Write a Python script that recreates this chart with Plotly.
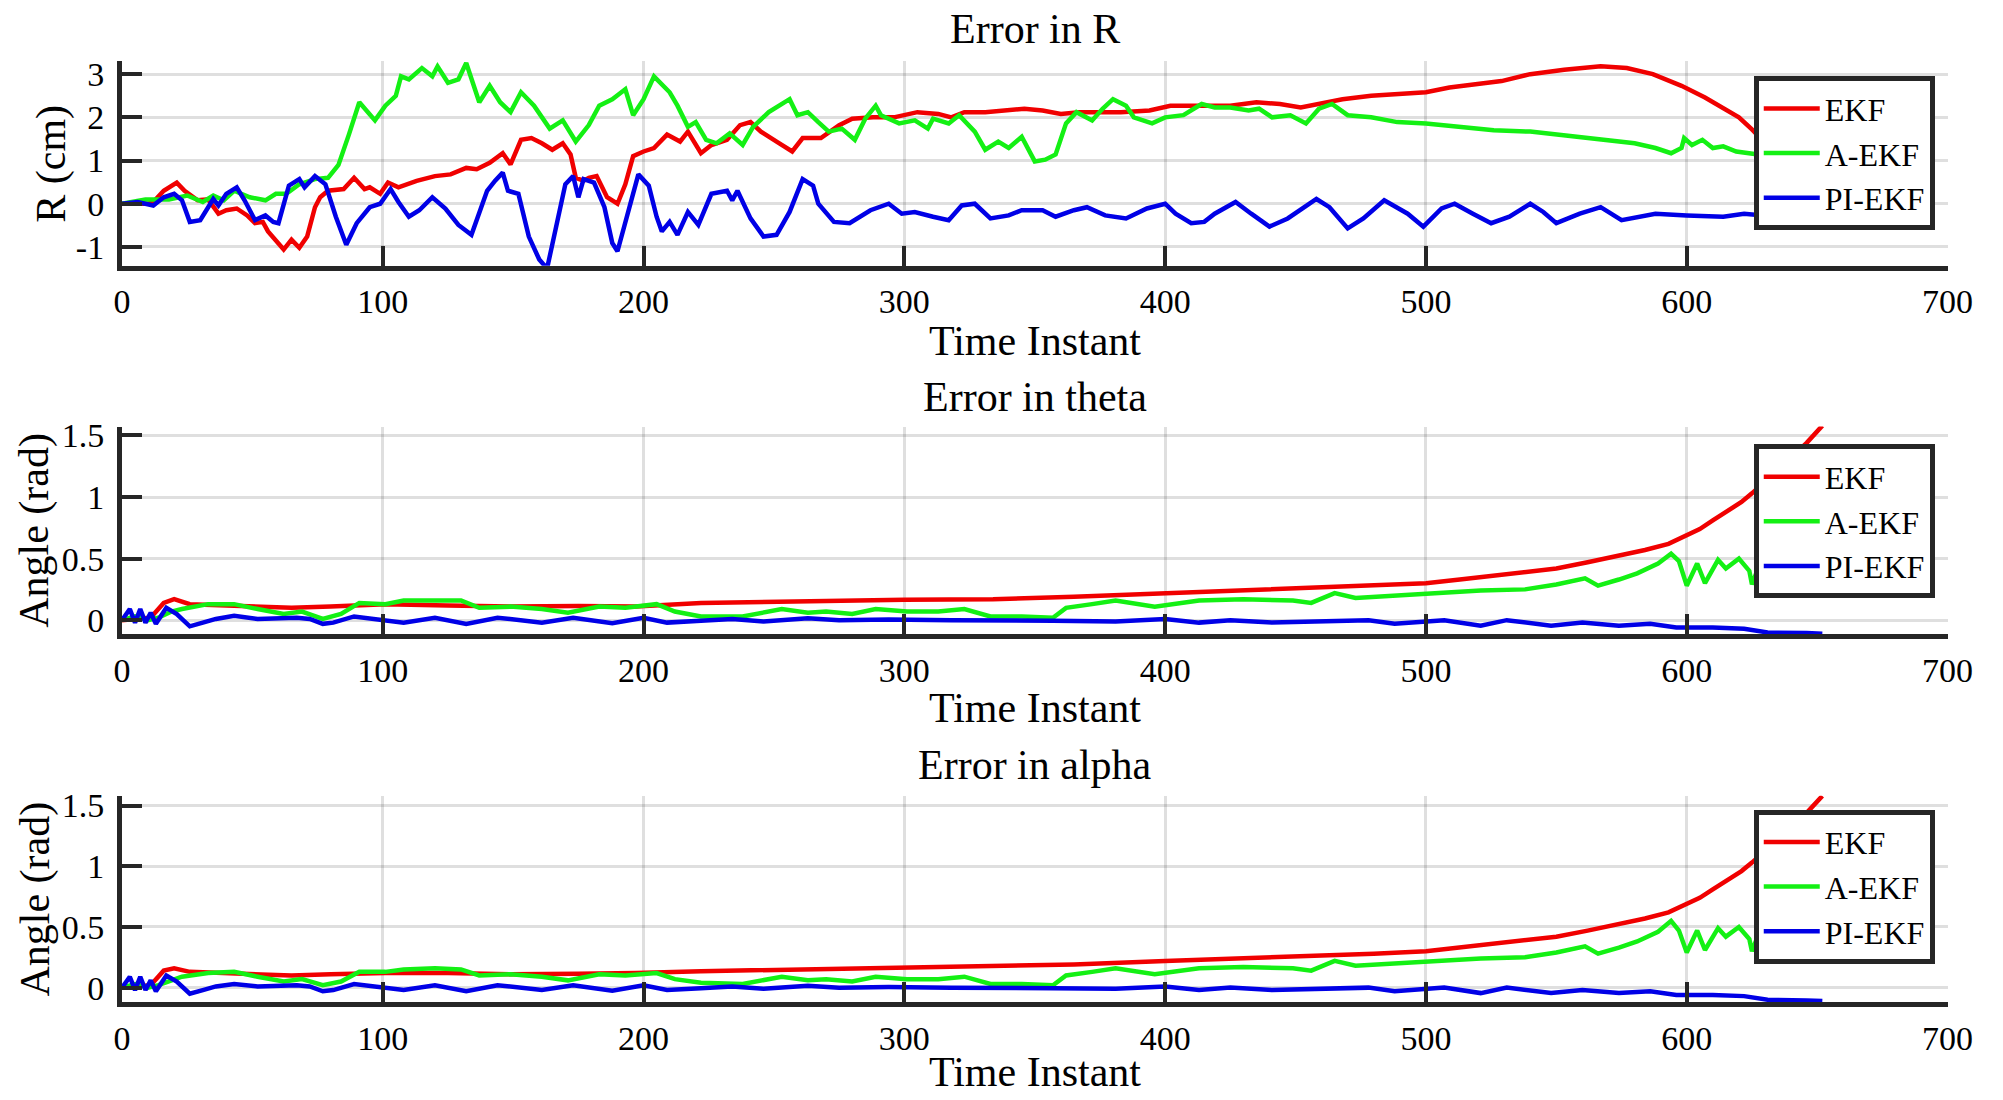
import plotly.graph_objects as go
from plotly.subplots import make_subplots

# ---- Error in R (cm) ----
r_ekf_x = [0, 10, 12, 16, 21, 24, 29, 33, 37, 40, 44, 48, 51, 54, 56, 59, 62, 65, 68, 71,
           74, 76, 79, 85, 89, 93, 95, 99, 102, 106, 113, 120, 126, 132, 136, 141, 146, 149, 153, 157,
           161, 165, 169, 172, 174, 177, 179, 182, 186, 190, 193, 196, 200, 204, 209, 214, 217, 222, 226, 232,
           237, 241, 245, 251, 257, 261, 268, 275, 280, 288, 296, 305, 313, 318, 323, 331, 340, 346, 353, 360,
           367, 375, 383, 394, 402, 415, 425, 435, 444, 452, 459, 468, 479, 490, 500, 509, 520, 529, 540, 553,
           567, 571, 577, 587, 598, 607, 620, 625, 630, 635, 640, 645, 650, 652]
r_ekf = [0, 0, 0.04, 0.3, 0.49, 0.3, 0.08, 0.1, -0.23, -0.15, -0.11, -0.27, -0.45, -0.42, -0.64, -0.87, -1.06, -0.83, -1.02, -0.76,
         -0.08, 0.15, 0.3, 0.34, 0.6, 0.34, 0.38, 0.23, 0.49, 0.38, 0.53, 0.64, 0.68, 0.83, 0.8, 0.95, 1.17, 0.91, 1.48, 1.52,
         1.4, 1.25, 1.4, 1.14, 0.6, 0.53, 0.6, 0.64, 0.15, 0, 0.45, 1.1, 1.21, 1.29, 1.6, 1.44, 1.67, 1.17, 1.36, 1.48,
         1.82, 1.89, 1.67, 1.44, 1.21, 1.52, 1.52, 1.82, 1.97, 2.0, 2.0, 2.12, 2.08, 2.0, 2.12, 2.12, 2.16, 2.2, 2.16, 2.08,
         2.12, 2.12, 2.12, 2.16, 2.27, 2.27, 2.27, 2.35, 2.31, 2.23, 2.31, 2.42, 2.5, 2.54, 2.58, 2.69, 2.77, 2.84, 3.0, 3.1,
         3.18, 3.17, 3.14, 3.0, 2.73, 2.46, 2.0, 1.72, 1.42, 1.1, 0.75, 0.4, 0.04, -0.27]

r_aekf_x = [0, 9, 18, 25, 31, 35, 39, 43, 49, 55, 59, 63, 68, 74, 79, 83, 87, 91, 97, 101,
            105, 107, 110, 115, 119, 121, 125, 129, 132, 137, 141, 145, 149, 153, 158, 164, 169, 174, 179, 183,
            188, 193, 196, 200, 204, 210, 213, 217, 220, 224, 228, 233, 238, 242, 248, 252, 256, 259, 263, 267,
            271, 276, 281, 285, 289, 291, 298, 304, 309, 311, 317, 321, 327, 331, 336, 340, 345, 350, 354, 358,
            362, 366, 372, 376, 380, 385, 388, 395, 400, 407, 414, 419, 425, 432, 436, 441, 448, 454, 459, 464,
            470, 479, 489, 500, 513, 526, 540, 553, 567, 580, 588, 594, 598, 599, 602, 606, 610, 614, 619, 626]
r_aekf = [0, 0.1, 0.1, 0.19, 0.04, 0.19, 0.08, 0.3, 0.15, 0.08, 0.23, 0.23, 0.45, 0.57, 0.6, 0.9, 1.6, 2.35, 1.93, 2.27,
          2.5, 2.95, 2.88, 3.14, 2.95, 3.18, 2.8, 2.88, 3.26, 2.35, 2.73, 2.35, 2.12, 2.58, 2.27, 1.74, 1.93, 1.44, 1.82, 2.27,
          2.42, 2.65, 2.05, 2.42, 2.95, 2.58, 2.27, 1.78, 1.89, 1.48, 1.4, 1.63, 1.36, 1.78, 2.12, 2.27, 2.42, 2.05, 2.12, 1.89,
          1.67, 1.74, 1.48, 1.97, 2.27, 2.05, 1.86, 1.93, 1.74, 1.97, 1.86, 2.05, 1.67, 1.25, 1.44, 1.29, 1.55, 0.98, 1.02, 1.14,
          1.86, 2.12, 1.93, 2.2, 2.42, 2.27, 2.0, 1.86, 2.0, 2.05, 2.31, 2.23, 2.23, 2.16, 2.2, 2.0, 2.05, 1.86, 2.2, 2.31,
          2.05, 2.0, 1.89, 1.86, 1.78, 1.7, 1.67, 1.59, 1.5, 1.4, 1.29, 1.17, 1.29, 1.52, 1.36, 1.48, 1.29, 1.33, 1.21, 1.15]

r_piekf_x = [0, 6, 12, 16, 20, 23, 26, 30, 35, 37, 40, 44, 47, 51, 55, 58, 60, 64, 68, 70,
             74, 78, 82, 86, 90, 95, 99, 103, 106, 110, 114, 119, 124, 129, 134, 140, 143, 146, 148, 152,
             156, 160, 163, 167, 170, 173, 175, 177, 181, 185, 188, 190, 194, 198, 202, 205, 207, 210, 213, 217,
             221, 226, 232, 234, 236, 241, 246, 251, 256, 261, 265, 267, 273, 279, 287, 294, 299, 304, 311, 317,
             322, 327, 333, 340, 345, 353, 358, 365, 370, 377, 385, 393, 400, 404, 410, 415, 419, 427, 433, 440,
             447, 458, 463, 470, 476, 484, 493, 499, 506, 511, 518, 525, 532, 540, 545, 550, 559, 567, 575, 581,
             588, 600, 614, 622, 630, 640, 646, 652]
r_piekf = [0, 0.04, -0.04, 0.15, 0.23, 0.08, -0.42, -0.38, 0.11, -0.04, 0.23, 0.38, 0.08, -0.38, -0.27, -0.42, -0.45, 0.42, 0.57, 0.38,
           0.64, 0.45, -0.3, -0.95, -0.45, -0.08, 0, 0.34, 0.04, -0.3, -0.15, 0.15, -0.11, -0.49, -0.72, 0.3, 0.53, 0.72, 0.3, 0.23,
           -0.76, -1.29, -1.5, -0.45, 0.45, 0.64, 0.15, 0.57, 0.49, -0.08, -0.91, -1.1, -0.23, 0.68, 0.42, -0.3, -0.64, -0.42, -0.72, -0.19,
           -0.49, 0.23, 0.3, 0.08, 0.3, -0.34, -0.76, -0.72, -0.19, 0.57, 0.42, 0, -0.42, -0.45, -0.15, 0, -0.23, -0.19, -0.3, -0.38,
           -0.04, 0, -0.34, -0.27, -0.15, -0.15, -0.3, -0.15, -0.08, -0.27, -0.34, -0.11, 0, -0.23, -0.45, -0.42, -0.23, 0.04, -0.23, -0.53,
           -0.34, 0.11, -0.08, -0.57, -0.34, 0.08, -0.23, -0.53, -0.11, 0, -0.23, -0.45, -0.3, 0, -0.19, -0.45, -0.23, -0.08, -0.38, -0.3,
           -0.23, -0.27, -0.3, -0.23, -0.27, -0.33, -0.27, -0.25]

# ---- Error in theta (rad) ----
th_ekf_x = [0, 11, 16, 20, 26, 40, 52, 65, 80, 101, 125, 149, 175, 197, 222, 250, 270, 300, 334, 365,
            400, 430, 454, 480, 500, 513, 526, 538, 550, 562, 574, 584, 593, 600, 605, 610, 615, 621, 625, 630,
            635, 640, 646, 652]
th_ekf = [0, 0.02, 0.14, 0.17, 0.13, 0.12, 0.11, 0.10, 0.11, 0.13, 0.12, 0.11, 0.115, 0.11, 0.14, 0.145, 0.155, 0.165, 0.17, 0.19,
          0.22, 0.24, 0.26, 0.28, 0.30, 0.33, 0.36, 0.39, 0.42, 0.47, 0.52, 0.57, 0.62, 0.69, 0.74, 0.81, 0.88, 0.96, 1.03, 1.12,
          1.22, 1.32, 1.44, 1.58]

th_aekf_x = [0, 5, 10, 14, 19, 23, 33, 43, 52, 62, 69, 77, 84, 91, 101, 108, 120, 130, 137, 149,
             161, 171, 183, 193, 205, 212, 222, 238, 253, 263, 270, 280, 289, 301, 313, 323, 333, 345, 357, 362,
             372, 381, 396, 413, 430, 449, 456, 465, 473, 490, 502, 521, 538, 550, 561, 566, 574, 581, 589, 594,
             597, 600, 604, 607, 612, 615, 620, 624, 625, 627]
th_aekf = [0, 0.03, 0.0, 0.02, 0.07, 0.09, 0.13, 0.13, 0.09, 0.05, 0.07, 0.01, 0.05, 0.14, 0.13, 0.16, 0.16, 0.16, 0.1, 0.11,
           0.09, 0.06, 0.11, 0.1, 0.13, 0.07, 0.03, 0.03, 0.09, 0.06, 0.07, 0.05, 0.09, 0.07, 0.07, 0.09, 0.03, 0.03, 0.02, 0.1,
           0.13, 0.16, 0.11, 0.16, 0.17, 0.16, 0.14, 0.22, 0.18, 0.2, 0.22, 0.24, 0.25, 0.29, 0.34, 0.28, 0.33, 0.38, 0.46, 0.54,
           0.48, 0.28, 0.46, 0.3, 0.49, 0.42, 0.5, 0.4, 0.29, 0.4]

th_piekf_x = [0, 3, 5, 7, 9, 11, 13, 17, 21, 26, 31, 36, 43, 52, 67, 72, 77, 81, 89, 101,
              108, 120, 132, 144, 161, 173, 188, 200, 209, 222, 234, 246, 263, 275, 294, 318, 333, 357, 381, 400,
              413, 425, 441, 468, 478, 488, 507, 521, 531, 548, 560, 574, 586, 596, 610, 622, 631, 646, 652]
th_piekf = [0, 0.09, -0.02, 0.09, -0.02, 0.06, -0.03, 0.1, 0.05, -0.05, -0.02, 0.01, 0.035, 0.01, 0.02, 0.01, -0.03, -0.02, 0.03, -0.005,
            -0.02, 0.02, -0.03, 0.02, -0.02, 0.02, -0.025, 0.02, -0.02, -0.005, 0.01, -0.01, 0.015, 0, 0.005, 0, 0, -0.005, -0.01, 0.01,
            -0.02, 0, -0.02, -0.01, 0, -0.03, 0, -0.045, 0, -0.045, -0.02, -0.045, -0.03, -0.06, -0.06, -0.07, -0.1, -0.105, -0.11]

# ---- Error in alpha (rad) ----
al_ekf_x = [0, 11, 16, 20, 26, 40, 52, 65, 80, 101, 125, 149, 175, 197, 222, 250, 270, 300, 334, 365,
            400, 430, 454, 480, 500, 513, 526, 538, 550, 562, 574, 584, 593, 600, 605, 610, 615, 621, 625, 630,
            635, 640, 646, 652]
al_ekf = [0, 0.02, 0.14, 0.16, 0.13, 0.12, 0.11, 0.10, 0.11, 0.12, 0.12, 0.11, 0.115, 0.12, 0.135, 0.145, 0.155, 0.16, 0.17, 0.19,
          0.22, 0.24, 0.26, 0.28, 0.30, 0.33, 0.36, 0.39, 0.42, 0.47, 0.52, 0.57, 0.62, 0.69, 0.74, 0.81, 0.88, 0.96, 1.03, 1.12,
          1.22, 1.32, 1.44, 1.58]

al_aekf_x = [0, 5, 10, 14, 19, 23, 33, 43, 52, 62, 69, 77, 84, 91, 101, 108, 120, 130, 137, 149,
             161, 171, 183, 193, 205, 212, 222, 238, 253, 263, 270, 280, 289, 301, 313, 323, 333, 345, 357, 362,
             372, 381, 396, 413, 430, 449, 456, 465, 473, 490, 502, 521, 538, 550, 561, 566, 574, 581, 589, 594,
             597, 600, 604, 607, 612, 615, 620, 624, 625, 627]
al_aekf = [0, 0.03, 0.0, 0.02, 0.06, 0.09, 0.12, 0.13, 0.09, 0.05, 0.07, 0.02, 0.05, 0.13, 0.13, 0.15, 0.16, 0.15, 0.1, 0.11,
           0.09, 0.06, 0.11, 0.1, 0.12, 0.07, 0.04, 0.03, 0.09, 0.06, 0.07, 0.05, 0.09, 0.07, 0.07, 0.09, 0.03, 0.03, 0.02, 0.1,
           0.13, 0.16, 0.11, 0.16, 0.17, 0.16, 0.14, 0.22, 0.18, 0.2, 0.22, 0.24, 0.25, 0.29, 0.34, 0.28, 0.33, 0.38, 0.46, 0.55,
           0.47, 0.29, 0.47, 0.31, 0.49, 0.42, 0.5, 0.4, 0.3, 0.41]

al_piekf_x = [0, 3, 5, 7, 9, 11, 13, 17, 21, 26, 31, 36, 43, 52, 67, 72, 77, 81, 89, 101,
              108, 120, 132, 144, 161, 173, 188, 200, 209, 222, 234, 246, 263, 275, 294, 318, 333, 357, 381, 400,
              413, 425, 441, 468, 478, 488, 507, 521, 531, 548, 560, 574, 586, 596, 610, 622, 631, 646, 652]
al_piekf = [0, 0.09, -0.02, 0.09, -0.02, 0.06, -0.03, 0.1, 0.05, -0.05, -0.02, 0.01, 0.03, 0.01, 0.02, 0.01, -0.03, -0.02, 0.03, -0.005,
            -0.02, 0.02, -0.03, 0.02, -0.02, 0.02, -0.025, 0.02, -0.02, -0.005, 0.01, -0.01, 0.015, 0, 0.005, 0, 0, -0.005, -0.01, 0.01,
            -0.02, 0, -0.02, -0.01, 0, -0.03, 0, -0.045, 0, -0.045, -0.02, -0.045, -0.03, -0.06, -0.06, -0.07, -0.1, -0.105, -0.11]

series_names = ["EKF", "A-EKF", "PI-EKF"]
series_colors = ["#f00000", "#14f014", "#0000e6"]
panel_titles = ["Error in R", "Error in theta", "Error in alpha"]
panel_ylabels = ["R (cm)", "Angle (rad)", "Angle (rad)"]
x_ticks = [0, 100, 200, 300, 400, 500, 600, 700]
r_ticks = [-1, 0, 1, 2, 3]
r_tick_text = ["-1", "0", "1", "2", "3"]
ang_ticks = [0, 0.5, 1, 1.5]
ang_tick_text = ["0", "0.5", "1", "1.5"]

panels = [
    [(r_ekf_x, r_ekf), (r_aekf_x, r_aekf), (r_piekf_x, r_piekf)],
    [(th_ekf_x, th_ekf), (th_aekf_x, th_aekf), (th_piekf_x, th_piekf)],
    [(al_ekf_x, al_ekf), (al_aekf_x, al_aekf), (al_piekf_x, al_piekf)],
]
for p in panels:
    for xs, ys in p:
        assert len(xs) == len(ys), (len(xs), len(ys))

FONT = "Liberation Serif"
AX = "#262626"
GRID = "rgba(38,38,38,0.15)"

W, H = 2003, 1100
x_dom = [115 / W, 1973 / W]
# pixel extents (top, bottom) of each panel
panel_px = [(53, 260), (423, 633), (797, 1006)]
y_ranges = [[-1.434, 3.297], [-0.112, 1.572], [-0.12, 1.58]]
legend_top_px = [68, 441, 811]
title_px = [20, 393, 766]
xlabel_px = [336, 708, 1077]
ylabel_x_px = [43, 26, 26]

fig = make_subplots(rows=3, cols=1)

legend_ids = ["legend", "legend2", "legend3"]
for i, p in enumerate(panels):
    for j, (xs, ys) in enumerate(p):
        fig.add_trace(go.Scatter(
            x=xs, y=ys, mode="lines", name=series_names[j],
            line=dict(color=series_colors[j], width=4.5),
            legend=legend_ids[i],
        ), row=i + 1, col=1)

axis_common = dict(
    showline=True, linecolor=AX, linewidth=5, mirror=False,
    ticks="inside", tickcolor=AX, tickwidth=4, ticklen=20,
    showgrid=True, gridcolor=GRID, gridwidth=3,
    zeroline=False,
    tickfont=dict(family=FONT, size=34, color="black"),
)

layout_extra = {}
annotations = []
for i in range(3):
    top, bot = panel_px[i]
    y_dom = [1 - bot / H, 1 - top / H]
    fig.update_xaxes(row=i + 1, col=1, domain=x_dom, range=[0, 700], tickvals=x_ticks,
                     ticklabelstandoff=2, **axis_common)
    if i == 0:
        fig.update_yaxes(row=1, col=1, domain=y_dom, range=y_ranges[0], tickvals=r_ticks,
                         ticktext=r_tick_text, ticklabelstandoff=6, **axis_common)
    else:
        fig.update_yaxes(row=i + 1, col=1, domain=y_dom, range=y_ranges[i], tickvals=ang_ticks,
                         ticktext=ang_tick_text, ticklabelstandoff=6, **axis_common)

    layout_extra[legend_ids[i]] = dict(
        x=1960 / W, xanchor="right", y=1 - legend_top_px[i] / H, yanchor="top",
        bgcolor="white", bordercolor=AX, borderwidth=5,
        font=dict(family=FONT, size=32, color="black"),
        tracegroupgap=0, itemwidth=56,
    )

    xc = (x_dom[0] + x_dom[1]) / 2
    annotations.append(dict(text=panel_titles[i], x=xc, y=1 - title_px[i] / H, xref="paper", yref="paper",
                            showarrow=False, xanchor="center", yanchor="middle",
                            font=dict(family=FONT, size=42, color="black")))
    annotations.append(dict(text="Time Instant", x=xc, y=1 - xlabel_px[i] / H, xref="paper", yref="paper",
                            showarrow=False, xanchor="center", yanchor="middle",
                            font=dict(family=FONT, size=42, color="black")))
    annotations.append(dict(text=panel_ylabels[i], x=ylabel_x_px[i] / W, y=(y_dom[0] + y_dom[1]) / 2,
                            xref="paper", yref="paper", showarrow=False, textangle=-90,
                            xanchor="center", yanchor="middle",
                            font=dict(family=FONT, size=42, color="black")))

fig.update_layout(
    width=W, height=H,
    margin=dict(l=0, r=0, t=0, b=0),
    paper_bgcolor="white", plot_bgcolor="white",
    font=dict(family=FONT, color="black"),
    showlegend=True,
    annotations=annotations,
    **layout_extra,
)

# page body margin would push the fixed-size figure off the 2003x1100 window
fig.write_html("out.html", config={"displayModeBar": False},
               post_script="document.body.style.margin='0';document.body.style.overflow='hidden';")
